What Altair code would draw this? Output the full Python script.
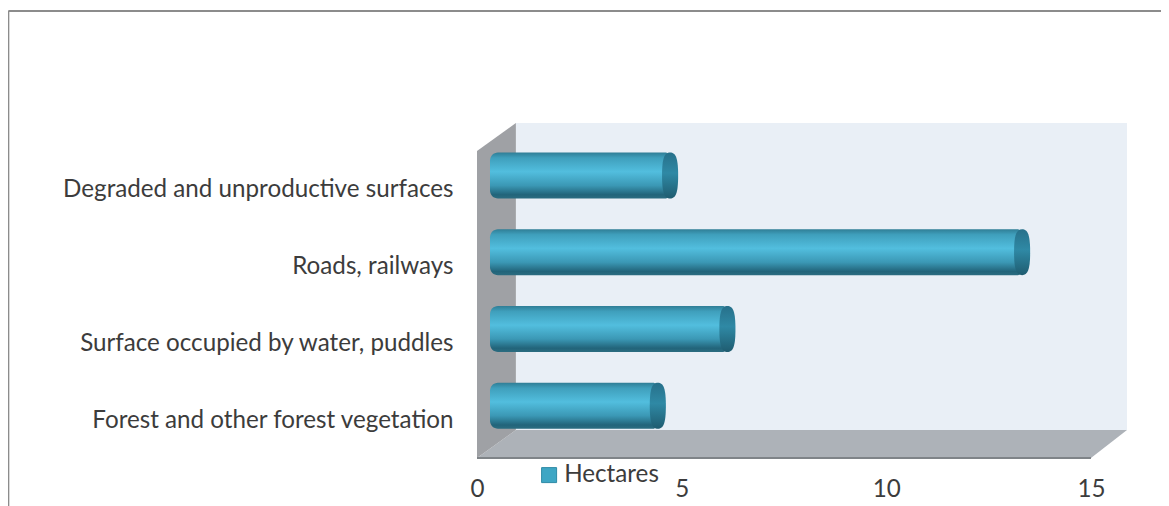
import altair as alt
import pandas as pd

categories = ["Degraded and unproductive surfaces", "Roads, railways",
              "Surface occupied by water, puddles", "Forest and other forest vegetation"]
hectares = [4.4, 13.0, 5.8, 4.1]
x_ticks = [0, 5, 10, 15]
series_name = ["Hectares"]

# 3D frame outline in the chart's own units
floor_x = [0, 0.95, 15, 15.88]
floor_top = [0, 28, 28, 28]
floor_bottom = [0, 0, 0, 28]
side_x = [0, 0.95]
side_top = [307, 335]
side_bottom = [0, 28]

FONT = "Lato"
FS = 24.2
TEXT = "#3c3c3c"
XMAX = 15.88
YMAX = 307
xs = alt.Scale(domain=[0, XMAX], nice=False, zero=False)
ys = alt.Scale(domain=[0, YMAX], nice=False, zero=False)

bars = pd.DataFrame({"category": categories, "value": hectares,
                     "zero": [0] * 4, "series": series_name * 4})
floor = pd.DataFrame({"x": floor_x, "t": floor_top, "b": floor_bottom})
side = pd.DataFrame({"x": side_x, "t": side_top, "b": side_bottom})
back = pd.DataFrame({"x": [0.95], "x2": [XMAX], "y": [28], "y2": [335]})
front = pd.DataFrame({"x": [0], "x2": [15], "y": [0]})
frame_top = pd.DataFrame({"x": [-11.45], "x2": [17.0], "y": [447]})
frame_left = pd.DataFrame({"x": [-11.45], "y": [447], "y2": [-60]})

x_axis = alt.Axis(values=x_ticks, domain=False, ticks=False, grid=False, labelFlush=False,
                  labelPadding=19, labelFontSize=FS, labelColor=TEXT, labelFont=FONT)
X = alt.X("x:Q", scale=xs, title=None, axis=x_axis)
Y = lambda f: alt.Y(f + ":Q", scale=ys, axis=None, title=None)

back_l = alt.Chart(back).mark_rect(color="#e9eff6").encode(X, alt.X2("x2:Q"), Y("y"), alt.Y2("y2:Q"))
floor_l = alt.Chart(floor).mark_area(color="#adb2b8", orient="vertical").encode(X, Y("t"), alt.Y2("b:Q"))
side_l = alt.Chart(side).mark_area(color="#9fa1a5", orient="vertical").encode(X, Y("t"), alt.Y2("b:Q"))
front_l = alt.Chart(front).mark_rule(color="#7f8488", strokeWidth=2).encode(X, alt.X2("x2:Q"), Y("y"))
top_l = alt.Chart(frame_top).mark_rule(color="#8c8c8c", strokeWidth=2).encode(X, alt.X2("x2:Q"), Y("y"))
left_l = alt.Chart(frame_left).mark_rule(color="#8c8c8c", strokeWidth=2).encode(X, Y("y"), alt.Y2("y2:Q"))
walls = alt.layer(back_l, floor_l, side_l, front_l, top_l, left_l)

gradient = alt.Gradient(
    gradient="linear", x1=0, y1=0, x2=0, y2=1,
    stops=[
        alt.GradientStop(offset=0, color="#2f7d95"),
        alt.GradientStop(offset=0.12, color="#3f9fbc"),
        alt.GradientStop(offset=0.42, color="#52bede"),
        alt.GradientStop(offset=0.72, color="#3b98b5"),
        alt.GradientStop(offset=0.92, color="#22647a"),
        alt.GradientStop(offset=1, color="#2b6c80"),
    ])
cap_gradient = alt.Gradient(
    gradient="linear", x1=0, y1=0, x2=0, y2=1,
    stops=[
        alt.GradientStop(offset=0, color="#27708a"),
        alt.GradientStop(offset=0.45, color="#2f89a5"),
        alt.GradientStop(offset=1, color="#1f5c70"),
    ])

Yc = alt.Y("category:N", sort=categories, title=None,
           scale=alt.Scale(paddingInner=0, paddingOuter=0),
           axis=alt.Axis(domain=False, ticks=False, grid=False, labelPadding=24,
                         labelFontSize=FS, labelColor=TEXT, labelFont=FONT,
                         labelLimit=460, labelOffset=1))
Xv = alt.X("value:Q", scale=xs, title=None, axis=x_axis)

bar_l = alt.Chart(bars).mark_bar(
    color=gradient, size=46, xOffset=13, x2Offset=13, yOffset=-14, y2Offset=-14,
    cornerRadiusTopLeft=8, cornerRadiusBottomLeft=8,
    cornerRadiusTopRight=5, cornerRadiusBottomRight=5,
).encode(alt.X("zero:Q", scale=xs, title=None, axis=x_axis), alt.X2("value:Q"), Yc)

CAP = ("M0,-1 C0.25,-1 0.35,-0.75 0.35,0 C0.35,0.75 0.25,1 0,1 "
       "C-0.25,1 -0.35,0.75 -0.35,0 C-0.35,-0.75 -0.25,-1 0,-1 Z")
cap_l = alt.Chart(bars).mark_point(
    shape=CAP, filled=True, opacity=1, size=2116, color=cap_gradient,
    xOffset=13, yOffset=-14,
).encode(Xv, Yc)

legend_l = alt.Chart(bars).mark_square(size=0).encode(
    Xv, Yc,
    color=alt.Color("series:N", scale=alt.Scale(range=["#3ea6c4"]), title=None,
                    legend=alt.Legend(orient="none", legendX=60, legendY=312,
                                      symbolType="square", symbolSize=225,
                                      symbolStrokeColor="#2f8aa6", symbolStrokeWidth=1,
                                      symbolOpacity=1,
                                      labelFontSize=FS, labelFont=FONT, labelColor=TEXT,
                                      labelOffset=3, padding=0)),
)

cyl = alt.layer(bar_l, cap_l, legend_l)

chart = alt.layer(walls, cyl).resolve_scale(y="independent").properties(
    width=650, height=YMAX,
    autosize=alt.AutoSizeParams(type="none"),
    padding={"left": 469, "top": 143, "right": 34, "bottom": 48},
    background="white",
).configure_view(stroke=None)

chart.save("out.html", embed_options={"renderer": "svg", "actions": False})
